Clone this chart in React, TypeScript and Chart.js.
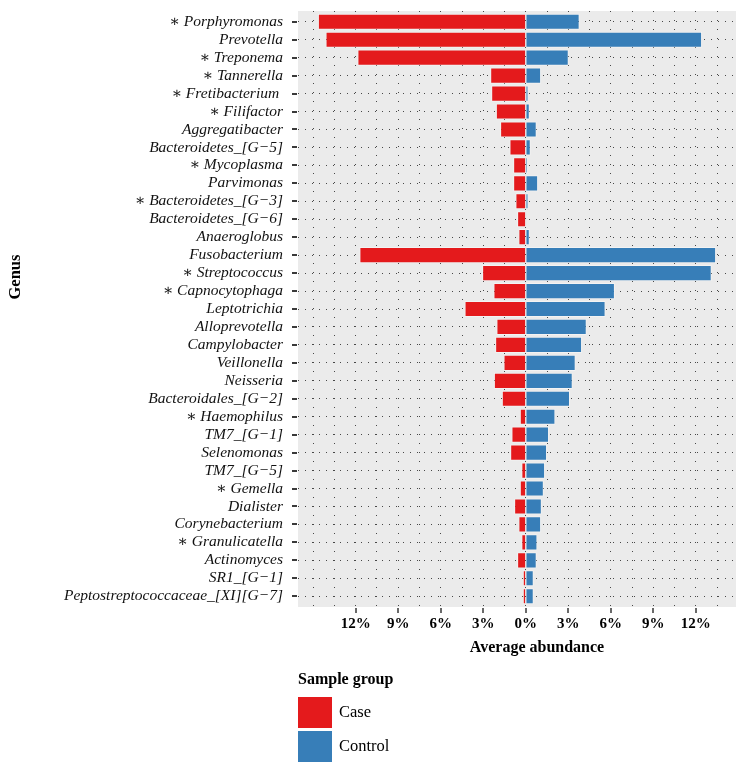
import React, { useEffect, useRef } from 'react';
import { Chart, registerables } from 'chart.js';

Chart.register(...registerables);

const genera = [
  '∗ Porphyromonas',
  'Prevotella',
  '∗ Treponema',
  '∗ Tannerella',
  '∗ Fretibacterium ',
  '∗ Filifactor',
  'Aggregatibacter',
  'Bacteroidetes_[G−5]',
  '∗ Mycoplasma',
  'Parvimonas',
  '∗ Bacteroidetes_[G−3]',
  'Bacteroidetes_[G−6]',
  'Anaeroglobus',
  'Fusobacterium',
  '∗ Streptococcus',
  '∗ Capnocytophaga',
  'Leptotrichia',
  'Alloprevotella',
  'Campylobacter',
  'Veillonella',
  'Neisseria',
  'Bacteroidales_[G−2]',
  '∗ Haemophilus',
  'TM7_[G−1]',
  'Selenomonas',
  'TM7_[G−5]',
  '∗ Gemella',
  'Dialister',
  'Corynebacterium',
  '∗ Granulicatella',
  'Actinomyces',
  'SR1_[G−1]',
  'Peptostreptococcaceae_[XI][G−7]',
];

const caseValues = [
  14.67, 14.13, 11.88, 2.51, 2.44, 2.11, 1.81, 1.15, 0.89, 0.89, 0.73, 0.61, 0.52,
  11.74, 3.08, 2.28, 4.32, 2.07, 2.16, 1.57, 2.25, 1.69, 0.42, 1.01, 1.1, 0.31,
  0.42, 0.82, 0.52, 0.31, 0.61, 0.21, 0.21,
];

const controlValues = [
  3.8, 12.44, 3.03, 1.08, 0.19, 0.28, 0.77, 0.35, 0.14, 0.87, 0.19, 0.05, 0.28,
  13.43, 13.12, 6.29, 5.63, 4.3, 3.97, 3.52, 3.31, 3.12, 2.09, 1.64, 1.5, 1.36,
  1.27, 1.13, 1.08, 0.82, 0.77, 0.56, 0.56,
];

const seriesLabels = ['Case', 'Control'];
const xTickValues = [-12, -9, -6, -3, 0, 3, 6, 9, 12];
const xTitle = 'Average abundance';
const yTitle = 'Genus';
const legendTitle = 'Sample group';

const COLORS = ['#E41A1C', '#377EB8'];
const FONT = '"Liberation Serif", "DejaVu Serif", serif';
const GRID = 'rgba(30,30,30,0.8)';

export default function App() {
  const canvasRef = useRef<HTMLCanvasElement | null>(null);

  useEffect(() => {
    const canvas = canvasRef.current;
    if (!canvas) return;

    const maxCase = Math.max(...caseValues);
    const maxControl = Math.max(...controlValues);
    const span = maxCase + maxControl;
    const xMin = -maxCase - 0.05 * span;
    const xMax = maxControl + 0.05 * span;

    const gridValues: number[] = [];
    for (let v = Math.ceil(xMin / 1.5) * 1.5; v <= xMax; v += 1.5) {
      gridValues.push(Math.round(v * 10) / 10);
    }

    const bgPlugin = {
      id: 'bgPlugin',
      beforeDraw(chart: any) {
        const { ctx, chartArea } = chart;
        ctx.save();
        ctx.fillStyle = '#ffffff';
        ctx.fillRect(0, 0, chart.width, chart.height);
        ctx.fillStyle = '#EBEBEB';
        ctx.fillRect(chartArea.left, chartArea.top, chartArea.right - chartArea.left, chartArea.bottom - chartArea.top);
        ctx.restore();
      },
    };

    const annotPlugin = {
      id: 'annotPlugin',
      afterDraw(chart: any) {
        const { ctx, chartArea, scales } = chart;
        ctx.save();
        ctx.setLineDash([]);
        ctx.lineDashOffset = 0;
        ctx.globalAlpha = 1;

        // tick marks
        ctx.fillStyle = '#3a3a3a';
        genera.forEach((_, i) => {
          const y = Math.round(scales.y.getPixelForValue(i));
          ctx.fillRect(chartArea.left - 6, y - 1, 5, 2);
        });
        ctx.fillStyle = '#6a6a6a';
        xTickValues.forEach((v) => {
          const x = Math.round(scales.x.getPixelForValue(v));
          ctx.fillRect(x - 1, chartArea.bottom + 1, 2, 5);
        });

        ctx.fillStyle = '#000';
        ctx.textBaseline = 'middle';
        ctx.textAlign = 'center';
        ctx.font = `bold 16px ${FONT}`;
        ctx.fillText(xTitle, (chartArea.left + chartArea.right) / 2 + 20, chartArea.bottom + 41);

        ctx.save();
        ctx.font = `bold 16.5px ${FONT}`;
        ctx.translate(16, (chartArea.top + chartArea.bottom) / 2 - 32);
        ctx.rotate(-Math.PI / 2);
        ctx.fillText(yTitle, 0, 0);
        ctx.restore();

        // legend
        const lx = chartArea.left;
        const ly = chartArea.bottom + 73;
        ctx.textAlign = 'left';
        ctx.font = `bold 16px ${FONT}`;
        ctx.fillText(legendTitle, lx, ly);
        ctx.font = `16.5px ${FONT}`;
        seriesLabels.forEach((lab, i) => {
          const top = chartArea.bottom + 90 + i * 34;
          ctx.fillStyle = COLORS[i];
          ctx.fillRect(lx, top, 34, 31);
          ctx.fillStyle = '#000';
          ctx.fillText(lab, lx + 41, top + 16);
        });
        ctx.restore();
      },
    };

    const chart = new Chart(canvas, {
      type: 'bar',
      data: {
        datasets: [
          {
            label: seriesLabels[0],
            data: genera.map((_, i) => ({ x: -caseValues[i], y: i })),
            backgroundColor: COLORS[0],
            borderColor: 'rgba(255,255,255,0.4)',
            borderWidth: 1,
            grouped: false,
            barPercentage: 0.9,
            categoryPercentage: 1,
          } as any,
          {
            label: seriesLabels[1],
            data: genera.map((_, i) => ({ x: controlValues[i], y: i })),
            backgroundColor: COLORS[1],
            borderColor: 'rgba(255,255,255,0.4)',
            borderWidth: 1,
            grouped: false,
            barPercentage: 0.9,
            categoryPercentage: 1,
          } as any,
        ],
      },
      options: {
        indexAxis: 'y',
        responsive: false,
        animation: false,
        layout: { padding: { left: 0, right: 11, top: 11, bottom: 0 } },
        plugins: { legend: { display: false }, tooltip: { enabled: false } },
        scales: {
          x: {
            type: 'linear',
            min: xMin,
            max: xMax,
            offset: false,
            afterBuildTicks: (s: any) => {
              s.ticks = gridValues.map((v) => ({ value: v }));
            },
            afterFit: (s: any) => {
              s.height = 167;
              s.paddingLeft = 0;
              s.paddingRight = 0;
            },
            grid: {
              offset: false,
              color: GRID,
              lineWidth: 1,
              drawTicks: true,
              tickLength: 5,
              tickColor: 'rgba(0,0,0,0)',
            },
            border: { display: false, dash: [1, 8] },
            ticks: {
              autoSkip: false,
              maxRotation: 0,
              padding: 3,
              color: '#000',
              font: { family: FONT, size: 15, weight: 'bold' },
              callback: (v: any) => (xTickValues.includes(v) ? `${Math.abs(v)}%` : ''),
            },
          },
          y: {
            type: 'linear',
            min: -0.6,
            max: genera.length - 1 + 0.6,
            reverse: true,
            offset: false,
            afterBuildTicks: (s: any) => {
              s.ticks = genera.map((_, i) => ({ value: i }));
            },
            afterFit: (s: any) => {
              s.width = 298;
              s.paddingTop = 0;
              s.paddingBottom = 0;
            },
            grid: {
              offset: false,
              color: GRID,
              lineWidth: 1,
              drawTicks: true,
              tickLength: 5,
              tickColor: 'rgba(0,0,0,0)',
            },
            border: { display: false, dash: [1, 6] },
            ticks: {
              autoSkip: false,
              padding: 10,
              color: '#111',
              font: { family: FONT, size: 15.5, style: 'italic' },
              callback: (v: any) => genera[v] ?? '',
            },
          },
        },
      } as any,
      plugins: [bgPlugin, annotPlugin],
    });

    return () => chart.destroy();
  }, []);

  return (
    <div style={{ position: 'fixed', left: 0, top: 0, width: 747, height: 774, background: '#fff' }}>
      <canvas ref={canvasRef} width={747} height={774} style={{ display: 'block', width: 747, height: 774 }} />
    </div>
  );
}
